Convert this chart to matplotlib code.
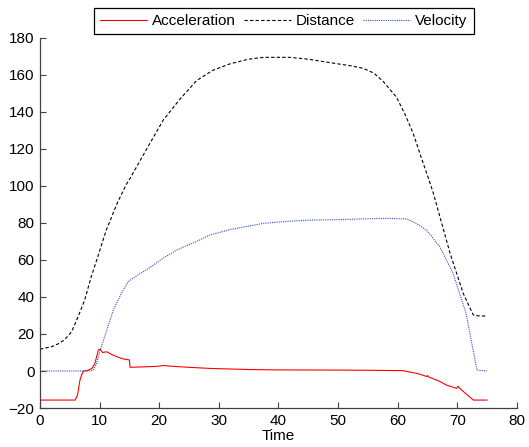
import numpy as np
import matplotlib
matplotlib.use("Agg")
import matplotlib.pyplot as plt

plt.rcParams['font.family'] = ['Liberation Sans', 'DejaVu Sans']
plt.rcParams['font.size'] = 11

# acceleration trace
t_acc = [0, 0.05, 5.9, 6.3, 6.7, 7.0, 7.3, 8.0, 8.7, 9.2, 9.8, 10.1, 10.5, 11.2, 12.0,
         12.9, 14.0, 15.0, 15.1, 17, 19.6, 20.7, 22, 25, 28.5, 35, 40, 50, 55, 60.9,
         62, 63.5, 64.9, 65.0, 65.2, 67, 68.2, 69.9, 70.1, 70.3, 71, 72.7, 75]
acc = [0, -15.7, -15.7, -13, -5, -2, 0, 0.3, 1.4, 4, 11.4, 11.8, 10, 10.4, 9,
       7.7, 6.5, 6, 2, 2.2, 2.5, 3, 2.6, 2, 1.4, 0.8, 0.6, 0.5, 0.4, 0.2,
       -0.5, -1.5, -3, -2.4, -3.2, -5.5, -7.6, -9.4, -8.2, -9, -11, -15.7, -15.7]

# distance trace
t_dist = [0, 1.9, 3.0, 4.1, 5.3, 6.4, 7.5, 8.6, 9.7, 11.1, 13, 14.5, 15.1, 17.9, 20.7,
          23.5, 26.3, 29, 31.9, 35, 37.5, 41.9, 45, 48.7, 52, 54.2, 56, 57.6, 59.8, 61.2,
          62.6, 64, 65.4, 66, 68.8, 71, 72, 72.7, 73.5, 75]
dist = [11.8, 13.1, 14.6, 16.8, 21.2, 29.4, 38.4, 51, 61.8, 76, 91, 101, 104, 120, 135.7,
        147, 157, 162.5, 166, 168.5, 169.5, 169.5, 168.5, 166.6, 165, 163.6, 161, 156.4, 148, 139,
        128.5, 115, 102, 96, 63.6, 42, 35, 30.3, 29.8, 29.7]

# velocity trace
t_vel = [0, 8.5, 8.9, 9.5, 10.1, 11, 12.3, 13.5, 14.8, 16, 18, 20.7, 23, 26.8, 28.5,
         32, 37.5, 42, 45.9, 50, 54.2, 58, 61.5, 63, 64.9, 67.1, 69.3, 71.5, 73.3, 75]
vel = [0, 0, 0.5, 4, 11.4, 20, 33, 41, 48.3, 51, 55, 61, 65.5, 70.8, 73.5,
       76.5, 79.8, 81, 81.6, 81.8, 82.2, 82.5, 82.2, 80, 76, 67, 52.8, 31, 0.5, 0]

fig = plt.figure(figsize=(5.29, 4.47), dpi=100)
ax = fig.add_axes([0.0756, 0.0872, 0.9014, 0.828])

ax.plot(t_acc, acc, color='#ff0000', lw=0.8, label='Acceleration')
ax.plot(t_dist, dist, color='black', lw=0.8, ls=(0, (3, 2)), label='Distance')
ax.plot(t_vel, vel, color='#3050c8', lw=0.8, ls=(0, (1, 1)), label='Velocity')

ax.set_xlim(0, 80)
ax.set_ylim(-20, 180)
ax.set_xticks(np.arange(0, 81, 10))
ax.set_yticks(np.arange(-20, 181, 20))
ax.tick_params(direction='in', length=4, width=0.8, color='#404040', pad=4,
               top=False, right=False)
for s in ['top', 'right']:
    ax.spines[s].set_visible(False)
for s in ['left', 'bottom']:
    ax.spines[s].set_color('#404040')
    ax.spines[s].set_linewidth(0.9)
ax.set_xlabel('Time', labelpad=1)

leg = fig.legend(loc='upper left', bbox_to_anchor=(0.178, 0.982), ncol=3,
                 borderaxespad=0, handlelength=3.05, handletextpad=0.33,
                 columnspacing=0.55, fancybox=False, framealpha=1,
                 edgecolor='black', borderpad=0.4)
leg.get_frame().set_linewidth(0.9)

fig.savefig('out.png', dpi=100)
